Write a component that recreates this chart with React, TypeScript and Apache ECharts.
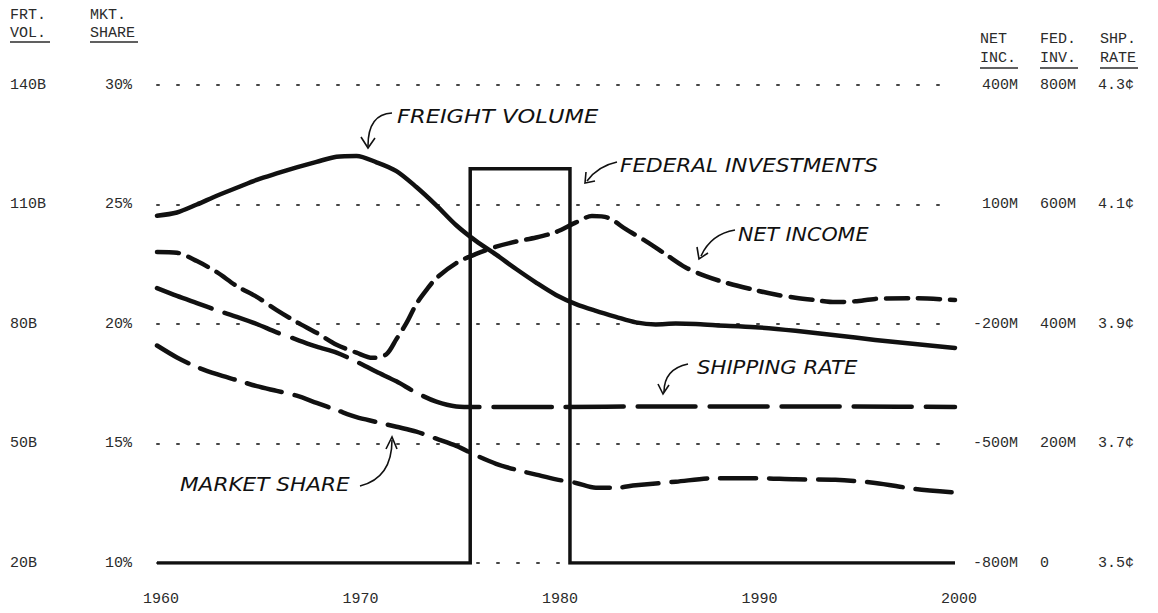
import React, { useEffect, useRef } from "react";
import * as echarts from "echarts";

// Tick labels
const xTickYears = [1960, 1970, 1980, 1990, 2000];
const frtVolTicks = ["20B", "50B", "80B", "110B", "140B"];
const mktShareTicks = ["10%", "15%", "20%", "25%", "30%"];
const netIncTicks = ["-800M", "-500M", "-200M", "100M", "400M"];
const fedInvTicks = ["0", "200M", "400M", "600M", "800M"];
const shipRateTicks = ["3.5¢", "3.7¢", "3.9¢", "4.1¢", "4.3¢"];

// Freight volume, billions
const freightVolume: [number, number][] = [
  [1960, 107.2], [1961, 108.0], [1962, 110.0], [1963, 112.2], [1964, 114.2],
  [1965, 116.2], [1966, 117.8], [1967, 119.3], [1968, 120.7], [1969, 122.0],
  [1970, 122.2], [1971, 120.6], [1972, 118.4], [1973, 114.4], [1974, 109.8],
  [1975, 104.8], [1976, 100.8], [1977, 97.4], [1978, 93.8], [1979, 90.4],
  [1980, 87.3], [1981, 85.0], [1982, 83.3], [1983, 81.8], [1984, 80.4],
  [1985, 79.9], [1986, 80.1], [1987, 80.0], [1988, 79.7], [1990, 79.2],
  [1992, 78.3], [1994, 77.2], [1996, 76.0], [1998, 75.0], [2000, 74.0],
];

// Market share, percent
const marketShare: [number, number][] = [
  [1960, 19.1], [1961, 18.6], [1962, 18.2], [1963, 17.9], [1964, 17.65],
  [1965, 17.4], [1966, 17.2], [1967, 17.0], [1968, 16.7], [1969, 16.4],
  [1970, 16.1], [1971, 15.9], [1972, 15.7], [1973, 15.5], [1974, 15.2],
  [1975, 14.9], [1976, 14.5], [1977, 14.15], [1978, 13.9], [1979, 13.7],
  [1980, 13.5], [1981, 13.35], [1982, 13.15], [1983, 13.15], [1984, 13.25],
  [1986, 13.4], [1988, 13.55], [1990, 13.55], [1992, 13.5], [1994, 13.48],
  [1996, 13.35], [1998, 13.1], [2000, 12.95],
];

// Net income, millions
const netIncome: [number, number][] = [
  [1960, -19], [1961, -21], [1962, -42], [1963, -70], [1964, -105],
  [1965, -132], [1966, -165], [1967, -195], [1968, -222], [1969, -252],
  [1970, -272], [1970.8, -285], [1971.5, -276], [1972, -238], [1972.5, -198],
  [1973, -150], [1973.5, -115], [1974, -85], [1975, -47], [1976, -24],
  [1977, -6], [1978, 7], [1979, 17], [1980, 31], [1981, 55],
  [1981.8, 71], [1982.6, 67], [1983.5, 38], [1984.5, 8], [1985.5, -25],
  [1986.5, -58], [1987.5, -80], [1988.5, -96], [1990, -115], [1991, -126],
  [1992, -134], [1993, -140], [1994, -145], [1995, -143], [1996, -137],
  [1998, -135], [2000, -140],
];

// Federal investments, millions
const fedInvestments: [number, number][] = [
  [1960, 0], [1975.7, 0], [1975.7, 660], [1980.7, 660], [1980.7, 0], [2000, 0],
];

// Shipping rate, cents
const shippingRate: [number, number][] = [
  [1960, 3.96], [1961, 3.947], [1962, 3.935], [1963, 3.923], [1964, 3.912],
  [1965, 3.9], [1966, 3.886], [1967, 3.874], [1968, 3.862], [1969, 3.852],
  [1970, 3.837], [1971, 3.82], [1972, 3.804], [1973, 3.785], [1974, 3.77],
  [1975, 3.762], [1976, 3.761], [1980, 3.761], [1985, 3.762], [1990, 3.762],
  [1995, 3.762], [2000, 3.761],
];

const MONO = "'Liberation Mono', 'DejaVu Sans Mono', monospace";
const HAND = "'DejaVu Sans', 'Noto Sans', sans-serif";
const INK = "#111";
const TYPE = "#2b2b2b";

const labelBase = { fontFamily: MONO, fontSize: 15, color: TYPE };

function catAxis(data: string[], position: "left" | "right", align: string, margin: number, split = false) {
  return {
    type: "category",
    position,
    data,
    boundaryGap: false,
    axisLine: { show: false },
    axisTick: { show: false },
    axisLabel: { ...labelBase, align, margin, interval: 0 },
    splitLine: {
      show: split,
      lineStyle: { type: [2, 18], width: 2, color: "#444", cap: "round" },
    },
  };
}

function valAxis(min: number, max: number) {
  return { type: "value", min, max, show: false, splitLine: { show: false } };
}

function handText(text: string, x: number, y: number, scaleX: number) {
  return {
    type: "text",
    x,
    y,
    scaleX,
    silent: true,
    style: {
      text,
      fill: INK,
      fontFamily: HAND,
      fontStyle: "italic",
      fontSize: 20,
      verticalAlign: "middle",
      align: "left",
    },
  };
}

function typeText(text: string, x: number, y: number) {
  return {
    type: "text",
    x,
    y,
    silent: true,
    style: { text, fill: TYPE, fontFamily: MONO, fontSize: 15, verticalAlign: "middle", align: "left" },
  };
}

function uline(x1: number, x2: number, y: number) {
  return {
    type: "line",
    silent: true,
    shape: { x1, y1: y, x2, y2: y },
    style: { stroke: TYPE, lineWidth: 1.5 },
  };
}

function arrow(x1: number, y1: number, cx: number, cy: number, x2: number, y2: number, head: number[][]) {
  return [
    {
      type: "bezierCurve",
      silent: true,
      shape: { x1, y1, x2, y2, cpx1: cx, cpy1: cy },
      style: { stroke: INK, lineWidth: 1.6, fill: "none" },
    },
    {
      type: "polyline",
      silent: true,
      shape: { points: head },
      style: { stroke: INK, lineWidth: 1.6, fill: "none" },
    },
  ];
}

export default function App() {
  const ref = useRef<HTMLDivElement>(null);

  useEffect(() => {
    if (!ref.current) return;
    const chart = echarts.init(ref.current, null, { renderer: "svg" });

    const lineSeries = (name: string, data: [number, number][], yAxisIndex: number, lineStyle: any, smooth: any = 0.3) => ({
      type: "line",
      name,
      data,
      xAxisIndex: 0,
      yAxisIndex,
      showSymbol: false,
      symbol: "none",
      smooth,
      z: 3,
      lineStyle: { color: INK, cap: "round", join: "round", ...lineStyle },
    });

    chart.setOption({
      animation: false,
      backgroundColor: "#ffffff",
      grid: { left: 157, right: 203, top: 85, bottom: 50, containLabel: false },
      xAxis: {
        type: "value",
        min: xTickYears[0],
        max: xTickYears[xTickYears.length - 1],
        interval: 10,
        axisLine: { show: false },
        axisTick: { show: false },
        splitLine: { show: false },
        axisLabel: { ...labelBase, margin: 29, padding: [0, 0, 0, 8], formatter: (v: number) => String(v) },
      },
      yAxis: [
        catAxis(frtVolTicks, "left", "left", 147, true),
        catAxis(mktShareTicks, "left", "left", 52),
        catAxis(netIncTicks, "right", "right", 63),
        catAxis(fedInvTicks, "right", "left", 85),
        catAxis(shipRateTicks, "right", "left", 143),
        valAxis(20, 140),
        valAxis(10, 30),
        valAxis(-800, 400),
        valAxis(0, 800),
        valAxis(3.5, 4.3),
      ],
      series: [
        lineSeries("Freight volume", freightVolume, 5, { width: 4.5 }),
        lineSeries("Market share", marketShare, 6, { width: 4.5, type: [36, 13] }),
        lineSeries("Net income", netIncome, 7, { width: 4.5, type: [22, 10] }),
        lineSeries("Federal investments", fedInvestments, 8, { width: 3.5, join: "miter", cap: "butt" }, false),
        lineSeries("Shipping rate", shippingRate, 9, { width: 4.5, type: [58, 14] }),
      ],
      graphic: [
        typeText("FRT.", 10, 15),
        typeText("VOL.", 10, 33),
        uline(10, 50, 42),
        typeText("MKT.", 90, 15),
        typeText("SHARE", 90, 33),
        uline(90, 138, 42),
        typeText("NET", 980, 39),
        typeText("INC.", 980, 58),
        uline(980, 1018, 68),
        typeText("FED.", 1040, 39),
        typeText("INV.", 1040, 58),
        uline(1040, 1078, 68),
        typeText("SHP.", 1100, 39),
        typeText("RATE", 1100, 58),
        uline(1100, 1138, 68),
        handText("FREIGHT VOLUME", 397, 116, 1.13),
        ...arrow(392, 113, 368, 114, 368, 146, [[361, 137], [368, 148], [375, 138]]),
        handText("FEDERAL INVESTMENTS", 620, 165, 1.08),
        ...arrow(617, 162, 598, 166, 587, 181, [[586, 172], [585, 183], [595, 181]]),
        handText("NET INCOME", 738, 234, 1.03),
        ...arrow(735, 230, 711, 234, 701, 256, [[697, 247], [699, 259], [708, 253]]),
        handText("SHIPPING RATE", 697, 367, 1.06),
        ...arrow(688, 364, 664, 369, 664, 392, [[658, 384], [663, 394], [669, 385]]),
        handText("MARKET SHARE", 180, 484, 1.08),
        ...arrow(360, 486, 392, 478, 392, 440, [[386, 449], [392, 437], [397, 449]]),
      ],
    });

    return () => chart.dispose();
  }, []);

  return (
    <div
      ref={ref}
      style={{ position: "absolute", left: 0, top: 0, width: 1158, height: 613, background: "#fff" }}
    />
  );
}
